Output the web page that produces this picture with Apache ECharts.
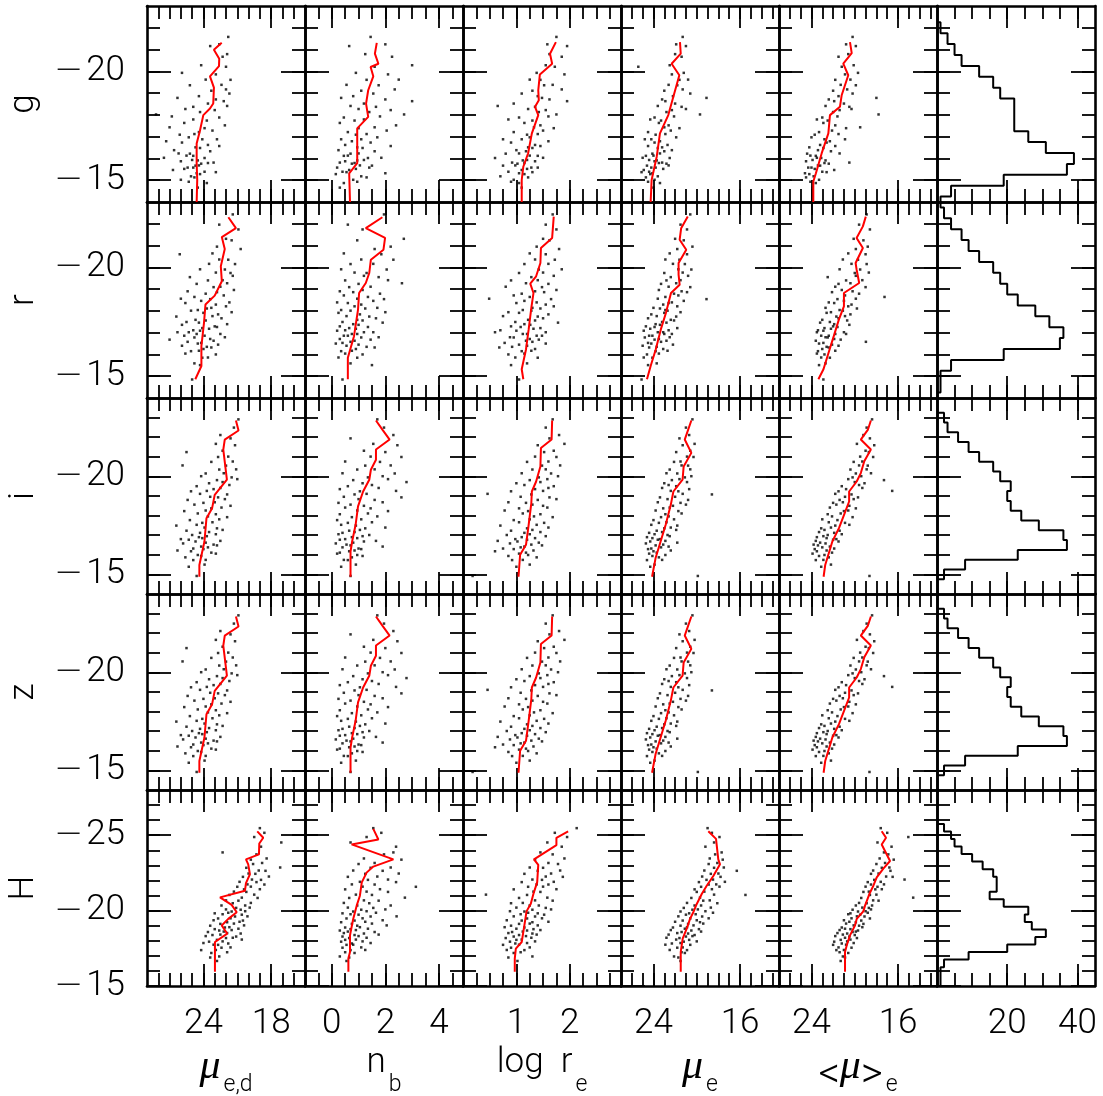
<!DOCTYPE html>
<html><head><meta charset="utf-8">
<script src="https://cdn.jsdelivr.net/npm/echarts@6/dist/echarts.min.js"></script>
<style>html,body{margin:0;padding:0;background:#fff}#c{width:1103px;height:1096px}</style>
</head><body><div id="c"></div>
<script>
// ---------------- tick values ----------------
const yMajorGR = [-20,-15];
const yMinorGR = [-22,-21,-20,-19,-18,-17,-16,-15];
const yMajorIZ = [-20,-15];
const yMinorIZ = [-23,-22,-21,-20,-19,-18,-17,-16,-15];
const yMajorH = [-25,-20,-15];
const yMinorH = [-27,-26,-25,-24,-23,-22,-21,-20,-19,-18,-17,-16];
const xMajorMued = [18,24];
const xMinorMued = [16,17,18,19,20,21,22,23,24,25,26,27,28];
const xMajorNb = [0,2,4];
const xMinorNb = [-0.5,0,0.5,1,1.5,2,2.5,3,3.5,4,4.5];
const xMajorRe = [1,2];
const xMinorRe = [0.25,0.5,0.75,1,1.25,1.5,1.75,2,2.25,2.5,2.75];
const xMajorMu = [16,24];
const xMinorMu = [13,14,15,16,17,18,19,20,21,22,23,24,25,26];
const xMajorHist = [20,40];
const xMinorHist = [5,10,15,20,25,30,35,40];

// ---------------- row g ----------------
const gMag = [-21.58,-21.24,-21.16,-20.79,-20.67,-20.28,-20.21,-19.93,-19.86,-19.61,
-19.62,-19.38,-19.36,-19.11,-19.17,-18.86,-18.98,-18.71,-18.78,-18.52,
-18.63,-18.37,-18.41,-18.22,-18.27,-18.02,-18.13,-17.88,-17.93,-17.74,
-17.79,-17.52,-17.63,-17.39,-17.43,-17.21,-17.28,-17.09,-17.12,-16.88,
-16.97,-16.79,-16.88,-16.62,-16.73,-16.51,-16.57,-16.38,-16.48,-16.22,
-16.33,-16.12,-16.23,-16.02,-16.13,-15.91,-16.03,-15.81,-15.93,-15.76,
-15.87,-15.67,-15.79,-15.58,-15.68,-15.47,-15.58,-15.39,-15.52,-15.32,
-15.37,-15.18,-15.28,-15.02,-15.13,-14.87,-14.93,-14.66];
const gMued = [21.8,22.6,23.4,21.9,22.3,24.2,22.0,25.9,22.9,21.6,
23.8,22.4,25.2,23.3,22.0,24.4,21.7,22.9,26.3,23.6,
22.2,24.9,21.9,23.0,25.6,28.2,24.3,22.6,26.8,23.7,
24.9,22.1,25.7,23.9,27.0,24.4,23.2,26.1,24.8,22.8,
25.3,27.3,24.1,23.6,25.9,24.7,22.6,26.6,24.3,25.2,
23.4,24.9,26.2,23.9,25.5,24.5,27.5,23.1,25.0,24.2,
26.0,24.7,23.6,25.4,24.4,26.7,24.9,23.9,25.7,24.6,
22.9,25.1,24.3,26.0,24.8,23.7,25.3,24.5];
const gNb = [1.45,2.0,0.65,1.25,2.25,3.0,1.6,0.9,2.1,1.3,
2.5,0.55,1.75,1.1,2.35,0.8,1.55,2.0,0.35,1.2,
3.0,1.65,0.7,2.2,1.0,2.7,1.4,0.45,1.8,0.85,
1.2,2.4,0.3,1.0,1.6,0.6,2.05,0.9,1.3,0.35,
1.7,0.75,1.1,0.5,1.45,0.95,2.2,0.25,1.15,0.7,
1.6,0.45,1.0,1.35,0.6,0.95,1.85,0.3,1.2,0.75,
0.5,1.5,0.85,0.2,1.05,0.65,1.4,0.4,0.9,2.0,
0.55,1.1,0.15,0.8,1.3,0.45,0.95,0.3];
const gLogre = [1.75,1.58,1.95,1.62,1.85,1.55,1.72,1.38,1.9,1.45,
1.25,1.68,1.52,1.3,1.85,1.4,1.1,1.62,1.48,0.95,
1.95,1.35,0.65,1.55,1.22,1.75,1.42,1.05,1.6,1.3,
0.85,1.45,1.15,1.7,1.33,0.95,1.5,1.2,1.4,0.75,
1.25,1.6,1.1,1.35,0.9,1.22,1.45,1.0,1.3,0.8,
1.18,1.4,1.05,0.6,1.25,1.12,1.5,0.92,1.2,1.02,
1.35,0.75,1.15,1.28,0.98,1.1,1.4,0.85,1.2,1.05,
1.3,0.7,1.15,0.95,1.22,1.05,0.9,1.1];
const gMue = [21.3,21.9,21.0,22.0,21.4,22.5,25.4,21.2,22.3,21.6,
20.8,22.6,21.8,23.0,21.3,22.2,20.6,23.2,19.1,22.0,
22.9,21.4,23.6,22.3,21.0,19.7,22.8,23.9,22.1,23.3,
24.3,22.6,23.5,21.6,23.0,24.5,22.4,23.8,22.9,24.2,
21.9,23.4,24.8,22.7,23.9,23.2,24.5,22.3,23.6,24.1,
23.0,24.7,23.4,22.5,24.0,23.7,25.0,23.2,24.4,22.8,
23.9,24.6,23.5,24.2,22.6,24.9,23.8,24.4,23.1,24.1,
25.1,23.6,24.3,23.9,24.7,23.4,24.5,24.0];
const gMum = [20.2,20.8,19.9,20.6,21.5,20.1,21.2,19.7,20.9,21.8,
20.4,21.3,19.9,22.0,20.7,21.5,20.2,22.4,18.0,21.0,
21.9,20.5,22.7,21.4,20.3,17.8,22.0,23.0,21.6,22.5,
23.5,21.8,22.9,20.8,19.5,23.3,22.1,23.7,21.5,22.8,
24.0,22.3,20.9,23.2,22.6,24.2,21.8,23.4,22.9,24.4,
22.2,23.6,21.4,23.1,24.1,22.7,23.5,20.5,23.9,22.4,
24.5,23.2,22.8,24.0,23.4,21.9,24.3,23.0,23.7,24.6,
22.6,23.8,24.2,23.3,24.5,23.6,24.1,23.9];
const gMuedLine = [[22.38,-21.31],[23.07,-20.99],[22.6,-20.58],[22.62,-20.24],[23.42,-19.77],[23.07,-19.25],[23.13,-18.52],[23.42,-18.29],[24.01,-17.99],[24.31,-17.27],[24.6,-16.69],[24.6,-15.78],[24.55,-15.01],[24.6,-14.0]];
const gNbLine = [[1.68,-21.31],[1.61,-20.81],[1.74,-20.35],[1.45,-20.2],[1.55,-19.77],[1.36,-19.13],[1.28,-18.52],[1.36,-17.91],[0.95,-17.38],[0.95,-15.78],[0.65,-15.32],[0.68,-14.0]];
const gLogreLine = [[1.74,-21.34],[1.63,-20.81],[1.67,-20.35],[1.44,-19.86],[1.41,-19.13],[1.42,-18.67],[1.35,-18.37],[1.41,-17.99],[1.29,-17.15],[1.22,-16.24],[1.13,-15.62],[1.10,-15.01],[1.10,-14.0]];
const gMueLine = [[21.55,-21.34],[21.48,-20.81],[22.32,-20.35],[21.61,-19.82],[22.17,-18.82],[22.63,-17.99],[23.4,-17.15],[23.7,-16.08],[24.17,-15.01],[24.26,-14.0]];
const gMumLine = [[20.44,-21.34],[20.28,-20.84],[21.06,-20.35],[20.6,-19.82],[21.21,-18.9],[21.37,-18.37],[22.29,-17.99],[22.44,-17.15],[23.06,-16.23],[23.59,-15.32],[23.83,-14.94],[23.83,-14.0]];
const gHistC = [-22,-21.5,-21,-20.5,-20,-19.5,-19,-18.5,-18,-17.5,-17,-16.5,-16,-15.5,-15,-14.5,-14];
const gHistN = [1,3,5,7,12,16,18,22,22,22,26,31,39,37,19,4,1];

// ---------------- row r ----------------
const rMag = [-22.43,-21.96,-21.74,-21.31,-21.24,-20.95,-20.84,-20.64,-20.6,-20.35,
-20.36,-20.15,-20.16,-19.9,-19.91,-19.74,-19.76,-19.55,-19.61,-19.4,
-19.41,-19.24,-19.27,-19.09,-19.11,-18.9,-18.96,-18.79,-18.86,-18.64,
-18.71,-18.54,-18.56,-18.39,-18.46,-18.29,-18.36,-18.14,-18.21,-18.04,
-18.11,-17.94,-18.01,-17.84,-17.91,-17.74,-17.76,-17.59,-17.66,-17.49,
-17.56,-17.39,-17.46,-17.29,-17.36,-17.21,-17.26,-17.11,-17.18,-17.02,
-17.09,-16.94,-17.02,-16.86,-16.94,-16.79,-16.86,-16.71,-16.78,-16.63,
-16.68,-16.53,-16.58,-16.45,-16.5,-16.35,-16.4,-16.25,-16.32,-16.15,
-16.17,-16.0,-16.04,-15.85,-15.86,-15.59,-15.51,-14.85];
const rMued = [21.4,22.6,20.9,22.0,21.5,22.8,20.7,23.2,26.1,21.8,
22.6,21.2,23.5,22.1,24.3,21.6,22.9,25.2,21.4,23.6,
22.3,24.6,21.9,23.1,22.5,25.4,21.3,23.8,22.8,24.8,
22.2,23.4,26.0,21.7,24.2,22.9,25.6,23.3,22.0,24.5,
23.7,21.5,25.1,22.7,24.0,26.4,23.2,24.7,22.4,25.5,
23.8,21.9,24.4,23.0,25.9,24.1,22.8,24.9,23.5,26.3,
24.3,22.5,25.3,23.9,24.6,22.1,25.7,23.4,24.8,23.1,
27.0,24.2,25.4,22.7,24.5,23.7,25.9,24.0,23.3,25.1,
24.4,22.9,25.6,24.1,23.6,24.8,24.3,25.0];
const rNb = [1.95,0.6,1.15,2.69,0.95,2.2,1.6,0.45,1.85,2.3,
1.1,0.7,1.55,2.05,0.35,1.3,0.85,1.75,1.2,0.5,
2.1,1.0,2.62,0.65,1.45,0.3,1.15,1.8,0.8,1.35,
0.45,1.95,0.95,0.2,1.55,1.1,0.6,1.7,0.85,0.35,
1.25,2.0,0.7,1.05,0.25,1.4,0.55,0.95,1.65,0.4,
1.15,0.8,1.9,0.3,1.0,0.65,1.35,0.5,0.9,1.55,
0.2,0.75,1.2,0.45,0.95,1.75,0.6,0.3,1.1,0.85,
1.45,0.4,0.7,1.0,0.15,1.3,0.55,0.9,1.6,0.35,
0.75,1.15,0.5,0.95,0.25,0.7,1.5,0.4];
const rLogre = [1.68,1.55,1.75,1.5,1.62,1.38,1.8,1.25,1.55,1.72,
1.35,1.15,1.6,1.42,1.85,1.05,1.5,1.28,1.7,0.9,
1.4,1.6,1.18,1.48,0.8,1.35,1.75,1.1,1.52,1.25,
0.95,1.65,0.49,1.38,1.15,1.55,1.0,1.3,1.7,1.12,
1.45,0.85,1.28,1.6,1.05,1.4,0.75,1.22,1.5,0.98,
1.35,1.15,1.78,0.9,1.26,1.45,1.08,0.7,1.32,1.55,
1.0,1.2,0.6,1.38,1.12,0.88,1.48,1.25,0.95,1.18,
1.42,0.78,1.3,1.05,1.55,0.92,1.2,1.35,0.68,1.1,
1.28,0.85,1.15,1.4,0.98,1.2,0.9,1.05];
const rMue = [20.6,21.5,20.9,22.0,21.2,20.4,21.8,22.5,20.9,21.6,
22.9,21.1,22.2,20.5,21.7,23.0,21.3,22.4,20.8,22.8,
21.5,23.3,21.9,20.6,22.6,21.4,23.5,22.1,20.9,22.9,
21.7,19.1,23.6,22.3,21.2,23.1,22.6,24.0,21.8,22.9,
23.4,21.5,22.7,24.2,23.0,21.9,23.7,22.4,24.5,23.2,
22.1,23.8,22.8,24.7,23.4,21.8,23.9,22.6,24.3,23.1,
24.9,22.3,23.6,24.4,23.0,22.5,24.1,23.5,24.8,22.8,
23.9,24.5,23.3,22.2,24.2,23.7,25.0,23.1,24.4,23.8,
22.7,24.6,23.5,24.1,24.9,23.7,24.5,25.1];
const rMum = [18.9,19.6,18.6,20.1,19.2,18.8,19.9,20.6,19.0,19.7,
21.1,18.9,20.3,19.5,21.4,20.0,18.7,22.5,19.9,20.8,
19.3,21.5,20.4,19.0,21.8,20.2,21.2,19.6,22.1,17.25,
20.9,21.6,19.9,22.4,21.0,20.3,21.9,22.7,20.6,21.4,
19.8,22.2,21.1,20.4,22.6,21.7,20.9,23.0,21.5,22.3,
20.7,21.9,23.2,22.0,20.5,22.8,21.6,23.4,22.2,21.0,
22.9,21.8,23.5,22.4,20.8,22.7,23.1,21.9,22.5,23.6,
21.3,22.9,18.97,22.1,23.3,22.6,21.5,23.0,22.4,23.4,
21.8,22.8,23.5,22.3,23.1,22.7,23.3,22.9];
const rMuedLine = [[21.79,-22.3],[21.12,-21.8],[22.37,-21.39],[22.11,-20.84],[22.46,-20.05],[22.37,-19.36],[23.0,-18.7],[23.82,-18.29],[23.95,-17.45],[24.18,-16.38],[24.18,-15.47],[24.72,-14.86]];
const rNbLine = [[1.89,-22.3],[1.27,-21.8],[1.99,-21.35],[1.93,-20.81],[1.46,-20.35],[1.4,-19.74],[1.27,-19.28],[1.02,-18.82],[0.98,-18.06],[0.83,-16.84],[0.6,-15.85],[0.6,-14.86]];
const rLogreLine = [[1.70,-22.33],[1.67,-21.35],[1.46,-20.89],[1.45,-20.2],[1.37,-19.59],[1.26,-19.25],[1.32,-18.82],[1.28,-18.14],[1.23,-17.15],[1.18,-16.23],[1.10,-15.32],[1.13,-14.86]];
const rMueLine = [[20.83,-22.33],[21.44,-21.8],[21.58,-21.27],[20.97,-20.81],[21.68,-20.2],[21.68,-19.67],[21.58,-19.2],[22.38,-18.82],[22.85,-17.9],[23.32,-17.15],[23.79,-16.23],[24.26,-15.47],[24.6,-14.86]];
const rMumLine = [[18.98,-22.33],[19.25,-21.88],[19.83,-21.35],[19.25,-20.89],[19.92,-20.2],[19.83,-19.9],[19.59,-19.28],[21.0,-18.82],[21.0,-18.21],[21.47,-17.6],[21.94,-16.84],[22.42,-16.08],[22.89,-15.32],[23.36,-14.86]];
const rHistC = [-23,-22.5,-22,-21.5,-21,-20.5,-20,-19.5,-19,-18.5,-18,-17.5,-17,-16.5,-16,-15.5,-15,-14.5];
const rHistN = [1,2,4,7,9,12,16,18,20,23,28,32,36,35,19,4,1,1];

// ---------------- row i (row z is drawn from the same values: the two rows are identical in the figure) ----------------
const iMag = [-22.91,-22.49,-22.11,-21.94,-21.66,-21.59,-21.31,-21.24,-21.01,-20.99,
-20.76,-20.74,-20.55,-20.56,-20.35,-20.36,-20.15,-20.16,-19.95,-20.01,
-19.81,-19.86,-19.65,-19.71,-19.5,-19.56,-19.35,-19.41,-19.24,-19.26,
-19.08,-19.11,-18.93,-18.96,-18.8,-18.84,-18.65,-18.68,-18.5,-18.56,
-18.37,-18.41,-18.23,-18.26,-18.07,-18.11,-17.92,-17.96,-17.77,-17.81,
-17.63,-17.66,-17.49,-17.53,-17.35,-17.39,-17.23,-17.27,-17.12,-17.16,
-17.01,-17.05,-16.9,-16.95,-16.8,-16.85,-16.71,-16.77,-16.62,-16.68,
-16.52,-16.58,-16.42,-16.48,-16.32,-16.38,-16.22,-16.29,-16.11,-16.18,
-15.99,-16.06,-15.87,-15.94,-15.74,-15.73,-15.5,-15.39,-14.92];
const iMued = [20.9,21.3,22.5,21.6,22.9,21.2,22.3,25.5,21.8,22.7,
21.4,23.3,22.0,25.85,22.6,21.1,23.8,22.2,21.5,24.2,
22.8,21.0,23.5,22.3,24.6,21.7,23.1,22.5,25.1,23.7,
21.9,24.3,22.7,23.4,25.4,22.1,24.0,23.0,21.6,24.8,
23.3,22.4,25.7,23.8,22.9,24.5,21.9,23.6,25.2,22.6,
24.1,23.2,26.4,24.6,22.8,23.9,25.5,22.3,24.3,23.5,
25.0,22.9,24.4,23.7,26.0,24.1,22.5,25.3,23.8,24.7,
23.1,25.8,24.2,22.8,24.9,23.6,26.3,24.0,23.3,25.1,
24.5,22.9,25.6,24.2,23.8,24.9,23.9,25.3,24.6];
const iNb = [1.7,1.95,2.3,0.7,1.55,2.45,1.2,2.0,1.45,2.6,
0.5,1.8,1.25,2.2,0.95,1.6,2.35,0.4,1.35,1.9,
0.8,2.1,1.15,2.79,0.6,1.5,0.3,1.75,1.05,2.4,
0.85,1.3,2.6,0.45,1.6,1.0,0.25,1.9,1.2,0.7,
1.45,0.5,2.1,0.95,0.3,1.35,0.75,1.7,0.2,1.1,
0.6,1.5,0.9,0.35,1.25,2.0,0.65,1.05,0.4,0.85,
1.4,0.25,0.75,1.15,0.5,0.95,1.65,0.3,0.8,1.2,
0.55,0.15,1.9,0.7,1.0,0.4,0.85,1.1,0.3,0.65,
0.95,0.2,0.75,1.15,0.45,0.6,0.9,0.35,0.7];
const iLogre = [1.68,1.55,1.8,1.62,1.9,1.4,1.7,1.52,1.35,1.75,
1.6,1.2,1.48,1.82,1.3,1.55,1.65,1.1,1.42,1.78,
1.25,1.58,1.0,1.45,1.7,1.15,1.35,1.6,0.9,1.5,
1.28,0.46,1.62,1.08,1.4,1.75,1.18,0.85,1.5,1.3,
1.05,1.58,1.22,0.78,1.45,1.12,1.68,1.33,0.95,1.25,
1.52,1.05,0.7,1.38,1.2,1.6,0.9,1.3,1.15,1.45,
0.82,1.25,1.1,1.55,0.98,1.35,0.65,1.2,1.42,1.02,
1.28,0.88,1.15,1.48,0.75,1.08,1.32,0.95,1.18,0.6,
1.22,1.05,1.38,0.85,1.12,0.92,1.25,1.0,0.18];
const iMue = [20.4,21.0,20.7,21.6,20.2,21.3,20.6,21.9,20.9,20.3,
21.5,22.1,20.8,21.4,22.5,20.6,21.8,22.8,21.1,20.5,
22.3,21.6,23.0,20.9,21.9,22.6,20.7,23.2,21.7,22.4,
18.6,21.3,23.4,22.0,20.8,22.7,21.5,23.6,22.2,21.0,
23.1,22.5,21.7,23.8,22.9,21.4,23.3,22.6,24.0,22.1,
23.5,22.8,21.8,24.2,23.0,22.4,23.7,21.9,24.4,23.2,
22.7,23.9,24.6,22.5,23.4,24.1,22.9,23.6,21.8,24.3,
23.1,24.7,22.6,23.8,24.2,23.3,22.4,24.5,23.7,24.0,
22.9,24.4,23.5,24.1,23.2,24.6,23.9,24.3,19.9];
const iMum = [18.4,18.9,19.2,18.6,19.8,18.2,19.0,18.7,19.5,18.3,
19.3,20.1,18.8,19.6,20.4,18.9,19.9,18.5,20.2,19.4,
17.3,20.6,19.1,20.0,21.2,19.6,20.8,19.3,21.5,16.54,
20.3,21.8,19.7,20.9,21.4,20.1,22.0,21.1,20.5,21.7,
19.9,22.3,21.0,20.6,22.5,21.3,20.2,22.1,21.6,23.0,
20.9,22.4,21.8,20.5,23.1,22.2,21.4,22.8,21.9,23.3,
22.5,21.2,23.5,22.9,21.7,22.6,23.6,22.0,23.2,21.5,
23.8,22.7,22.3,23.4,21.9,23.0,22.6,23.7,22.1,23.5,
22.8,23.9,22.4,23.3,22.9,23.6,22.2,23.1,18.64];
const iMuedLine = [[21.12,-22.85],[20.89,-22.34],[22.11,-21.88],[22.24,-21.37],[21.92,-19.83],[23.0,-19.06],[23.23,-18.38],[23.73,-17.87],[23.91,-16.68],[24.36,-15.48],[24.36,-14.88]];
const iNbLine = [[1.65,-22.85],[1.89,-22.39],[2.16,-21.88],[1.65,-21.37],[1.65,-20.85],[1.46,-20.34],[1.4,-19.83],[1.17,-19.23],[0.98,-18.47],[0.89,-17.53],[0.76,-16.68],[0.7,-16.17],[0.7,-14.88]];
const iLogreLine = [[1.67,-22.85],[1.66,-21.88],[1.46,-21.45],[1.45,-20.51],[1.37,-19.74],[1.29,-19.23],[1.28,-18.64],[1.23,-17.53],[1.18,-16.51],[1.07,-16.0],[1.04,-14.88]];
const iMueLine = [[20.5,-22.85],[21.11,-21.88],[20.5,-21.2],[21.21,-20.51],[21.31,-19.83],[22.16,-19.23],[22.4,-18.55],[22.87,-17.53],[23.34,-16.68],[23.81,-15.82],[24.13,-14.88]];
const iMumLine = [[18.51,-22.85],[18.78,-22.39],[19.44,-21.88],[18.51,-21.37],[19.12,-20.77],[19.44,-20.17],[19.82,-19.74],[20.52,-19.23],[20.52,-18.72],[20.99,-18.04],[21.46,-17.36],[22.07,-16.68],[22.73,-15.48],[22.88,-14.88]];
const iHistC = [-23,-22.5,-22,-21.5,-21,-20.5,-20,-19.5,-19,-18.5,-18,-17.5,-17,-16.5,-16,-15.5,-15];
const iHistN = [2,3,6,9,12,16,18,21,20,21,24,29,36,37,23,8,2];

// ---------------- row H ----------------
const hMag = [-25.47,-25.16,-24.88,-24.52,-24.24,-23.86,-23.73,-23.46,-23.38,-23.16,
-23.09,-22.86,-22.84,-22.66,-22.64,-22.46,-22.44,-22.26,-22.24,-22.06,
-22.04,-21.91,-21.89,-21.74,-21.73,-21.58,-21.59,-21.41,-21.42,-21.26,
-21.24,-21.06,-21.04,-20.86,-20.84,-20.68,-20.66,-20.51,-20.49,-20.34,
-20.34,-20.18,-20.2,-20.06,-20.08,-19.94,-19.96,-19.82,-19.86,-19.73,
-19.76,-19.61,-19.62,-19.48,-19.49,-19.34,-19.36,-19.23,-19.26,-19.12,
-19.14,-19.0,-19.02,-18.88,-18.9,-18.77,-18.8,-18.68,-18.71,-18.58,
-18.61,-18.48,-18.51,-18.38,-18.41,-18.28,-18.31,-18.18,-18.2,-18.06,
-18.08,-17.94,-17.96,-17.82,-17.85,-17.73,-17.74,-17.56,-17.54,-17.38,
-17.39,-17.24,-17.19,-16.96,-16.89,-16.66];
const hMued = [19.0,18.6,19.5,17.1,18.9,22.3,19.3,18.4,19.8,18.8,
19.6,17.2,20.2,19.1,18.5,20.0,19.4,18.2,20.5,19.7,
18.9,20.8,19.3,20.1,18.6,21.0,19.8,20.4,19.0,21.3,
20.2,19.5,21.7,20.6,19.2,22.0,20.9,19.8,21.4,20.3,
22.4,21.1,19.9,20.7,22.0,21.5,20.3,23.0,21.8,20.6,
22.3,21.2,20.1,22.7,21.6,20.5,23.1,21.9,20.8,22.5,
21.3,23.4,20.4,22.1,21.7,23.0,20.9,22.6,21.5,23.6,
22.2,20.7,21.9,23.2,22.5,21.1,23.8,22.0,21.4,22.8,
20.6,23.5,22.3,21.8,24.0,22.7,23.1,21.6,22.4,24.2,
22.9,21.9,23.3,22.6,23.4,22.8];
const hNb = [1.55,1.85,1.3,0.7,2.4,2.3,1.95,1.2,2.6,1.6,
1.0,2.2,1.45,0.8,1.9,2.5,1.25,1.7,0.6,2.1,
1.35,1.05,2.4,0.75,1.6,3.14,1.15,0.5,1.8,1.3,
2.1,0.9,1.5,2.73,0.65,1.2,1.75,0.45,1.4,2.2,
0.95,1.55,0.6,1.1,2.0,0.8,1.3,0.4,1.65,1.0,
0.7,1.45,2.42,0.55,1.15,0.85,1.9,0.35,1.25,0.75,
1.5,0.95,2.05,0.5,1.05,0.7,1.35,0.3,0.9,1.6,
0.6,1.2,0.45,0.85,1.75,0.4,1.0,0.65,1.3,0.5,
0.9,0.35,1.15,0.75,1.45,0.55,0.8,1.1,0.4,0.7,
1.25,0.5,0.85,0.3,0.65,0.55];
const hLogre = [2.13,1.72,1.95,1.58,1.85,1.45,1.68,1.9,1.35,1.6,
1.78,1.25,1.5,1.82,1.4,1.65,1.15,1.55,1.87,1.3,
1.48,1.7,1.1,1.38,1.6,1.22,1.5,0.95,1.75,1.32,
1.45,0.43,1.2,1.58,1.05,1.35,1.68,1.12,0.9,1.42,
1.25,1.55,1.0,1.3,1.65,1.15,0.88,1.4,1.22,1.52,
1.08,1.35,0.95,1.2,1.48,1.1,0.82,1.3,1.6,1.05,
1.25,0.9,1.4,1.15,0.78,1.32,1.0,1.2,1.45,0.92,
1.12,1.3,0.85,1.05,1.38,0.95,1.18,0.8,1.28,1.0,
1.1,0.88,1.35,0.98,1.2,0.75,1.05,1.25,0.9,1.15,
0.82,1.08,0.95,1.3,0.85,1.02];
const hMue = [19.0,18.6,17.9,18.4,19.2,17.7,18.3,18.8,17.6,18.1,
18.9,17.5,18.4,19.3,16.3,18.0,18.7,19.5,17.8,18.5,
19.1,17.4,19.8,18.2,18.9,19.6,17.9,20.2,18.6,19.3,
20.0,18.4,15.5,19.7,20.5,18.8,19.4,20.9,18.1,20.2,
19.6,21.2,18.7,20.4,19.9,21.5,19.2,20.7,18.5,21.0,
20.1,19.5,21.7,20.6,18.9,21.3,20.0,19.7,22.0,20.8,
19.4,21.5,20.3,22.2,20.9,19.8,21.1,20.5,22.4,21.4,
19.6,20.8,21.8,20.2,22.6,21.0,20.4,21.6,22.8,20.7,
21.9,21.2,20.0,22.3,21.5,20.6,22.9,21.3,21.8,20.9,
22.5,21.4,21.1,22.1,21.7,21.5];
const hMum = [17.6,17.0,15.05,17.9,16.6,17.3,16.9,17.7,16.4,17.2,
18.0,16.8,17.5,18.3,16.7,17.8,18.5,17.1,16.5,15.4,
18.2,17.6,18.8,17.3,18.5,17.9,19.0,18.1,17.5,18.7,
19.2,18.0,18.6,14.6,19.4,18.3,17.8,19.6,18.9,18.4,
19.9,18.7,19.3,20.2,18.5,19.7,19.0,20.4,18.8,19.5,
20.6,19.1,19.8,18.6,20.3,19.4,21.0,19.9,20.5,19.2,
20.8,19.6,20.1,21.2,19.3,20.4,20.9,19.7,21.4,20.2,
19.9,20.7,21.6,20.0,21.1,20.5,21.8,19.8,20.9,21.3,
20.4,21.9,20.7,21.2,20.1,22.0,20.8,21.5,20.3,21.7,
21.0,21.4,20.6,21.1,20.9,21.3];
const hMuedLine = [[19.23,-25.26],[18.7,-24.83],[19.05,-24.45],[19.08,-23.73],[20.23,-23.4],[20.03,-23.07],[19.88,-22.41],[20.23,-21.82],[20.32,-21.32],[22.53,-20.88],[21.5,-20.38],[21.05,-19.89],[21.8,-19.45],[22.38,-19.01],[21.89,-18.47],[22.98,-17.92],[22.98,-15.95]];
const hNbLine = [[1.55,-25.42],[1.74,-24.72],[0.74,-24.39],[2.3,-23.4],[1.55,-22.92],[1.3,-22.52],[1.12,-21.87],[1.05,-20.99],[0.93,-20.33],[0.8,-19.45],[0.68,-18.36],[0.68,-17.26],[0.62,-16.82],[0.62,-15.95]];
const hLogreLine = [[1.97,-25.26],[1.75,-24.83],[1.75,-24.34],[1.33,-23.4],[1.41,-23.03],[1.39,-21.89],[1.32,-21.12],[1.27,-20.46],[1.19,-19.95],[1.16,-19.25],[1.1,-17.92],[0.99,-17.48],[0.97,-16.82],[0.97,-15.95]];
const hMueLine = [[18.93,-25.26],[18.22,-24.76],[18.01,-23.4],[17.85,-23.07],[18.47,-22.3],[19.08,-21.65],[19.54,-21.1],[20.0,-20.44],[20.32,-19.89],[20.62,-19.45],[20.93,-18.8],[21.3,-18.14],[21.48,-17.26],[21.48,-15.95]];
const hMumLine = [[17.51,-25.26],[17.11,-24.83],[17.51,-24.39],[16.74,-23.29],[17.36,-22.79],[17.97,-22.2],[18.28,-21.65],[18.65,-21.1],[19.05,-20.33],[19.21,-19.95],[19.82,-19.45],[19.98,-19.01],[20.44,-18.36],[20.74,-17.7],[20.9,-17.26],[20.9,-15.95]];
const hHistC = [-25.5,-25,-24.5,-24,-23.5,-23,-22.5,-22,-21.5,-21,-20.5,-20,-19.5,-19,-18.5,-18,-17.5,-17,-16.5,-16,-15.5,-15];
const hHistN = [2,4,5,7,10,13,16,17,17,15,19,26,25,27,31,28,20,9,2,1,1,1];

// ---------------- layout ----------------
const FONT = 'Roboto, "Liberation Sans", Arial, sans-serif';
const rows = [
  {label:'g', min:-23, max:-14, major:yMajorGR, minor:yMinorGR, mag:gMag, xs:[gMued,gNb,gLogre,gMue,gMum], lines:[gMuedLine,gNbLine,gLogreLine,gMueLine,gMumLine], hc:gHistC, hn:gHistN},
  {label:'r', min:-23, max:-14, major:yMajorGR, minor:yMinorGR, mag:rMag, xs:[rMued,rNb,rLogre,rMue,rMum], lines:[rMuedLine,rNbLine,rLogreLine,rMueLine,rMumLine], hc:rHistC, hn:rHistN},
  {label:'i', min:-24, max:-14, major:yMajorIZ, minor:yMinorIZ, mag:iMag, xs:[iMued,iNb,iLogre,iMue,iMum], lines:[iMuedLine,iNbLine,iLogreLine,iMueLine,iMumLine], hc:iHistC, hn:iHistN},
  {label:'z', min:-24, max:-14, major:yMajorIZ, minor:yMinorIZ, mag:iMag, xs:[iMued,iNb,iLogre,iMue,iMum], lines:[iMuedLine,iNbLine,iLogreLine,iMueLine,iMumLine], hc:iHistC, hn:iHistN},
  {label:'H', min:-28, max:-15, major:yMajorH, minor:yMinorH, mag:hMag, xs:[hMued,hNb,hLogre,hMue,hMum], lines:[hMuedLine,hNbLine,hLogreLine,hMueLine,hMumLine], hc:hHistC, hn:hHistN}
];
const cols = [
  {min:15, max:29, inverse:true, major:xMajorMued, minor:xMinorMued, name:'{mu|μ}{sub|e,d}'},
  {min:-1, max:4.9, inverse:false, major:xMajorNb, minor:xMinorNb, name:'{t|n}{sub|b}'},
  {min:0, max:2.96, inverse:false, major:xMajorRe, minor:xMinorRe, name:'{t|log  r}{sub|e}'},
  {min:12.4, max:27, inverse:true, major:xMajorMu, minor:xMinorMu, name:'{mu|μ}{sub|e}'},
  {min:12.4, max:27, inverse:true, major:xMajorMu, minor:xMinorMu, name:'{br|<}{mu|μ}{br|>}{sub|e}'},
  {min:0, max:45, inverse:false, major:xMajorHist, minor:xMinorHist, name:''}
];
const rowTop = [6,202,398,594,790];
const GH = 196, GW = 158, GL = 147;
const MAJ = 24, MIN = 13;

const richName = {
  mu: {fontSize:42, fontStyle:'italic', fontFamily:'"Liberation Serif","DejaVu Serif",serif', color:'#000', lineHeight:46, verticalAlign:'top'},
  t: {fontSize:35, fontFamily:FONT, fontWeight:300, color:'#000', lineHeight:46, verticalAlign:'top'},
  br: {fontSize:42, fontFamily:FONT, fontWeight:300, color:'#000', lineHeight:46, padding:[9,0,0,0], verticalAlign:'top'},
  sub: {fontSize:23, fontFamily:FONT, fontWeight:300, color:'#000', lineHeight:26, padding:[28,0,0,3], verticalAlign:'top'}
};
const richY = {
  m: {fontSize:35, fontFamily:'"DejaVu Sans"', fontWeight:200, color:'#000', padding:[0,3,0,0]},
  d: {fontSize:35, fontFamily:FONT, fontWeight:300, color:'#000'}
};

const grids=[], xAxis=[], yAxis=[], series=[], graphics=[];
rows.forEach((row, r) => {
  // row label (band name), rotated like the original
  graphics.push({type:'text', x:24, y: rowTop[r] + GH/2, rotation: Math.PI/2, silent:true,
    style:{text: row.label, fill:'#000', font:'300 35px ' + FONT, align:'center', verticalAlign:'middle'}});
  cols.forEach((col, c) => {
    const gi = grids.length;
    grids.push({left: GL + GW*c, top: rowTop[r], width: GW, height: GH, outerBoundsMode:'none', containLabel:false});
    const bottom = r === rows.length-1, left = c === 0;
    const xi = xAxis.length, yi = yAxis.length;
    ['bottom','top'].forEach(pos => {
      [true,false].forEach(major => {
        const showLabel = pos==='bottom' && major && bottom;
        xAxis.push({
          gridIndex: gi, type:'value', position: pos, min: col.min, max: col.max, inverse: col.inverse,
          splitLine:{show:false},
          axisLine:{show: major, onZero:false, lineStyle:{color:'#000', width:2.6}},
          axisTick:{show:true, inside:true, length: major?MAJ-2:MIN, lineStyle:{color:'#000', width:1.8}, customValues: major?col.major:col.minor},
          axisLabel: showLabel ? {show:true, customValues: col.major, margin:21, color:'#000', fontSize:35, fontFamily:FONT, fontWeight:300} : {show:false},
          name: showLabel ? col.name : '', nameLocation:'middle', nameGap:60, nameMoveOverlap:false,
          nameTextStyle:{color:'#000', rich: richName}
        });
      });
    });
    ['left','right'].forEach(pos => {
      [true,false].forEach(major => {
        const showLabel = pos==='left' && major && left;
        yAxis.push({
          gridIndex: gi, type:'value', position: pos, min: row.min, max: row.max, inverse: true,
          splitLine:{show:false},
          axisLine:{show: major, onZero:false, lineStyle:{color:'#000', width:2.6}},
          axisTick:{show:true, inside:true, length: major?MAJ:MIN, lineStyle:{color:'#000', width:1.8}, customValues: major?row.major:row.minor},
          axisLabel: showLabel ? {show:true, customValues: row.major, margin:22, rich: richY,
            formatter: v => '{m|\u2212}{d|' + Math.abs(v) + '}'} : {show:false}
        });
      });
    });
    if (c < 5) {
      const xs = row.xs[c];
      const pts = row.mag.map((m, k) => [xs[k], m]);
      series.push({type:'scatter', xAxisIndex: xi, yAxisIndex: yi, data: pts, symbol:'rect', symbolSize:2.5, itemStyle:{color:'#000'}, silent:true, z:2});
      series.push({type:'line', xAxisIndex: xi, yAxisIndex: yi, data: row.lines[c], symbol:'none', lineStyle:{color:'#ff0000', width:2}, silent:true, z:3});
    } else {
      const steps = [[0, row.hc[0]-0.25]];
      row.hc.forEach((ctr, k) => { steps.push([row.hn[k], ctr-0.25]); steps.push([row.hn[k], ctr+0.25]); });
      steps.push([0, row.hc[row.hc.length-1]+0.25]);
      series.push({type:'line', xAxisIndex: xi, yAxisIndex: yi, data: steps, symbol:'none', lineStyle:{color:'#000', width:2}, silent:true, z:3});
    }
  });
});

const chart = echarts.init(document.getElementById('c'), null, {renderer:'canvas'});
chart.setOption({animation:false, backgroundColor:'#fff', grid: grids, xAxis: xAxis, yAxis: yAxis, series: series, graphic: graphics});
</script></body></html>
